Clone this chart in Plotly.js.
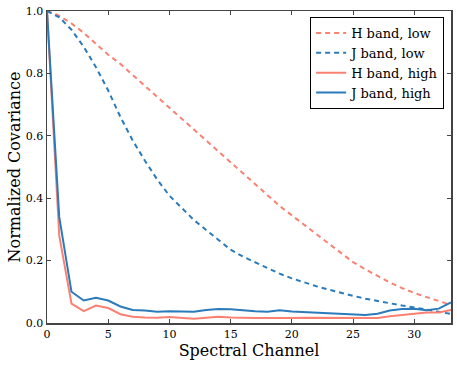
<!DOCTYPE html>
<html>
<head>
<meta charset="utf-8">
<script src="https://cdn.plot.ly/plotly-3.0.1.min.js"></script>
<style>
  html, body { margin: 0; padding: 0; background: #fff; }
  #chart { width: 457px; height: 365px; }
</style>
</head>
<body>
<div id="chart"></div>
<script>
// spectral channel index 0..33
const channels = [0,1,2,3,4,5,6,7,8,9,10,11,12,13,14,15,16,17,18,19,20,21,22,23,24,25,26,27,28,29,30,31,32,33];

const hLow = [1.0,0.985,0.96,0.93,0.895,0.86,0.83,0.795,0.76,0.725,0.69,0.655,0.62,0.585,0.55,0.515,0.48,0.445,0.41,0.375,0.345,0.315,0.285,0.255,0.225,0.195,0.172,0.15,0.13,0.112,0.096,0.083,0.07,0.058];
const jLow = [1.0,0.98,0.94,0.885,0.82,0.745,0.66,0.585,0.52,0.46,0.408,0.368,0.33,0.298,0.265,0.235,0.213,0.195,0.175,0.158,0.143,0.13,0.118,0.107,0.096,0.087,0.078,0.07,0.063,0.056,0.05,0.043,0.036,0.029];
const hHigh = [1.0,0.28,0.062,0.038,0.056,0.048,0.028,0.02,0.018,0.017,0.019,0.017,0.014,0.017,0.02,0.018,0.016,0.016,0.016,0.015,0.016,0.017,0.017,0.016,0.015,0.015,0.015,0.016,0.022,0.026,0.03,0.034,0.034,0.042];
const jHigh = [1.0,0.34,0.10,0.072,0.081,0.072,0.053,0.042,0.040,0.036,0.038,0.037,0.036,0.042,0.045,0.044,0.040,0.038,0.036,0.041,0.037,0.035,0.034,0.032,0.029,0.027,0.026,0.030,0.040,0.045,0.046,0.041,0.046,0.066];

const salmon = '#fa8072';
const blue = '#2b7bba';
const serif = 'DejaVu Serif, serif';

var data = [
  {x: channels, y: hLow, name: 'H band, low', mode: 'lines',
   line: {color: salmon, width: 2, dash: '5px,4px'}},
  {x: channels, y: jLow, name: 'J band, low', mode: 'lines',
   line: {color: blue, width: 2, dash: '5px,4px'}},
  {x: channels, y: hHigh, name: 'H band, high', mode: 'lines',
   line: {color: salmon, width: 2}},
  {x: channels, y: jHigh, name: 'J band, high', mode: 'lines',
   line: {color: blue, width: 2}}
];

var axisStyle = {
  showgrid: false,
  zeroline: false,
  showline: true,
  linecolor: '#444',
  linewidth: 1.5,
  mirror: 'ticks',
  ticks: 'inside',
  ticklen: 4,
  tickcolor: '#444',
  tickfont: {family: serif, size: 11, color: '#000'}
};

var layout = {
  width: 457,
  height: 365,
  margin: {l: 47, r: 6, t: 11, b: 42},
  paper_bgcolor: '#fff',
  plot_bgcolor: '#fff',
  font: {family: serif, color: '#000'},
  xaxis: Object.assign({}, axisStyle, {
    range: [0, 33],
    tickvals: [0, 5, 10, 15, 20, 25, 30],
    title: {text: 'Spectral Channel', font: {family: serif, size: 16}, standoff: 4}
  }),
  yaxis: Object.assign({}, axisStyle, {
    range: [0, 1],
    tickvals: [0, 0.2, 0.4, 0.6, 0.8, 1.0],
    tickformat: '.1f',
    title: {text: 'Normalized Covariance', font: {family: serif, size: 16}, standoff: 1}
  }),
  legend: {
    x: 0.983, y: 0.981, xanchor: 'right', yanchor: 'top',
    bordercolor: '#000', borderwidth: 1, bgcolor: '#fff',
    font: {family: serif, size: 13},
    itemwidth: 30,
    tracegroupgap: 0
  },
  showlegend: true
};

Plotly.newPlot('chart', data, layout, {displayModeBar: false, staticPlot: true});
</script>
</body>
</html>
